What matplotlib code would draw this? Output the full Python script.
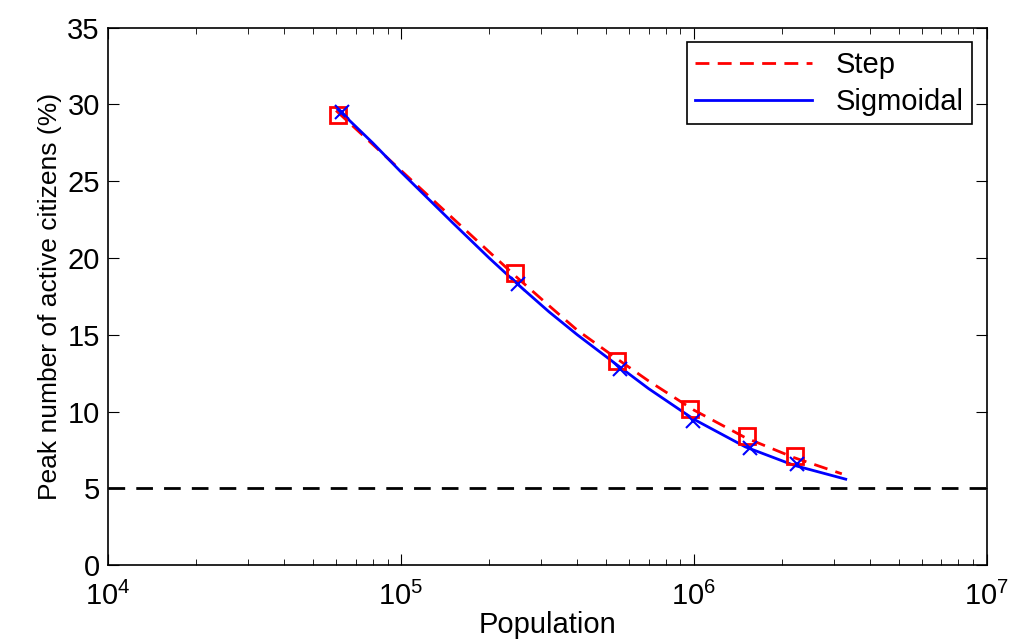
import numpy as np
import matplotlib.pyplot as plt
from matplotlib.ticker import LogLocator, NullFormatter

# simulated peaks (markers)
pop_step = [6.1e4, 2.45e5, 5.46e5, 9.7e5, 1.52e6, 2.21e6]
peak_step = [29.3, 19.0, 13.3, 10.2, 8.4, 7.1]
pop_sig = [6.3e4, 2.5e5, 5.6e5, 9.9e5, 1.55e6, 2.25e6]
peak_sig = [29.5, 18.3, 12.8, 9.4, 7.6, 6.6]

# fitted curves
pop_fit_step = [6e4, 8e4, 1e5, 1.5e5, 2e5, 2.5e5, 3.2e5, 4e5, 5.5e5, 7e5, 1e6, 1.5e6, 2.2e6, 3.2e6]
fit_step = [29.6, 27.4, 25.7, 22.6, 20.4, 18.7, 16.9, 15.3, 13.4, 12.0, 10.1, 8.3, 7.0, 5.95]
pop_fit_sig = [6e4, 8e4, 1e5, 1.5e5, 2e5, 2.5e5, 3.2e5, 4e5, 5.5e5, 7e5, 1e6, 1.5e6, 2.2e6, 3.3e6]
fit_sig = [29.8, 27.5, 25.6, 22.3, 20.0, 18.3, 16.5, 15.0, 13.0, 11.5, 9.5, 7.7, 6.5, 5.6]

threshold = 5

plt.rcParams['font.family'] = 'Liberation Sans'
fig = plt.figure(figsize=(10.11, 6.43), dpi=100)
ax = fig.add_axes([0.107, 0.121, 0.869, 0.836])

ax.plot(pop_fit_step, fit_step, 'r--', lw=2, dashes=(5, 3), label='Step')
ax.plot(pop_fit_sig, fit_sig, 'b-', lw=2, label='Sigmoidal')
ax.plot(pop_step, peak_step, 'rs', ms=11, mfc='none', mew=2)
ax.plot(pop_sig, peak_sig, 'bx', ms=10, mew=1.5)
ax.axhline(threshold, color='k', ls='--', lw=2, dashes=(6, 4))

ax.set_xscale('log')
ax.set_xlim(1e4, 1e7)
ax.set_ylim(0, 35)
ax.set_yticks(np.arange(0, 36, 5))
ax.xaxis.set_minor_locator(LogLocator(base=10, subs=np.arange(2, 10)))
ax.xaxis.set_minor_formatter(NullFormatter())
ax.tick_params(which='both', direction='in', top=True, right=True, labelsize=21)
ax.tick_params(which='major', length=8)
ax.tick_params(which='minor', length=4)
ax.tick_params(axis='x', pad=12)
ax.tick_params(axis='y', pad=6)
for s in ax.spines.values():
    s.set_linewidth(1.2)

ax.set_xlabel('Population', fontsize=21, labelpad=0)
ax.set_ylabel('Peak number of active citizens (%)', fontsize=19, labelpad=4)

leg = ax.legend(loc='upper right', fontsize=21, fancybox=False, framealpha=1,
                edgecolor='k', handlelength=4.0, borderaxespad=0.5,
                labelspacing=0.3, borderpad=0.3)
leg.get_frame().set_linewidth(1.2)

fig.savefig('out.png', dpi=100)
